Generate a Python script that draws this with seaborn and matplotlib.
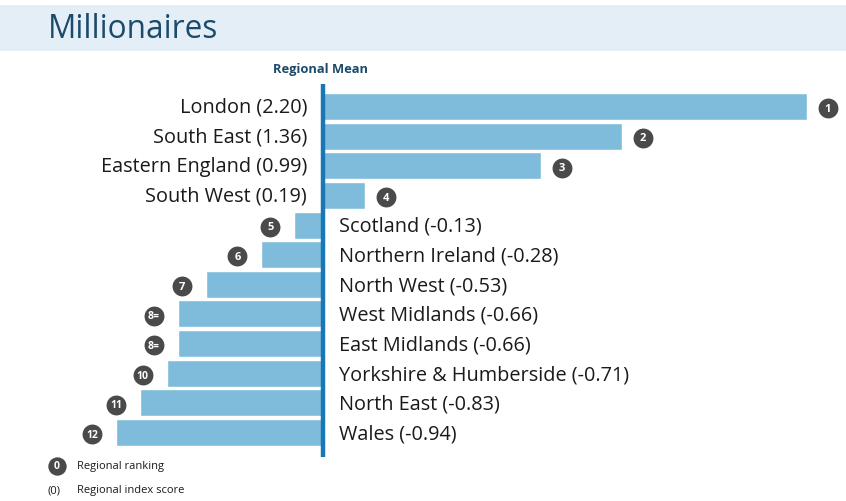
import matplotlib
matplotlib.use("Agg")
import matplotlib.pyplot as plt
import seaborn as sns
import pandas as pd
from matplotlib.patches import Rectangle

# Data
regions = ["London", "South East", "Eastern England", "South West", "Scotland",
           "Northern Ireland", "North West", "West Midlands", "East Midlands",
           "Yorkshire & Humberside", "North East", "Wales"]
scores = [2.20, 1.36, 0.99, 0.19, -0.13, -0.28, -0.53, -0.66, -0.66, -0.71, -0.83, -0.94]
ranks = ["1", "2", "3", "4", "5", "6", "7", "8=", "8=", "10", "11", "12"]

BAR_COLOR = "#7fbcdc"
AXIS_COLOR = "#1778b5"
NAVY = "#1b4a6b"
DARK = "#4a4a4a"
TEXT = "#1a1a1a"

sns.set_style("white")
plt.rcParams["font.family"] = ["Open Sans", "DejaVu Sans"]

W, H = 846, 502
fig = plt.figure(figsize=(W / 100, H / 100), dpi=100)
ax = fig.add_axes([0, 0, 1, 1])

df = pd.DataFrame({"region": regions, "score": scores})
sns.barplot(data=df, x="score", y="region", orient="h", color=BAR_COLOR,
            width=0.91, saturation=1, ax=ax)

# pixel mapping: x0 at 323px, 220 px per unit; rows start at 107.5px, 29.64 px apart
px_unit = 220.0
row = 29.64
ax.set_xlim(-323 / px_unit, (W - 323) / px_unit)
ax.set_ylim((H - 107.5) / row, -107.5 / row)
ax.axis("off")

# regional mean line
ax.plot([0, 0], [(85 - 107.5) / row, (458 - 107.5) / row], color=AXIS_COLOR,
        lw=3.2, solid_capstyle="butt", zorder=3)

pad = 16 / px_unit
for i, (name, v, r) in enumerate(zip(regions, scores, ranks)):
    label = f"{name} ({v:.2f})"
    if v >= 0:
        ax.text(-pad, i, label, ha="right", va="center", fontsize=14.3, color=TEXT)
        cx = v + 21 / px_unit
    else:
        ax.text(pad, i + 0.03, label, ha="left", va="center", fontsize=14.3, color=TEXT)
        cx = v - 24 / px_unit
    cy = i + 0.06
    ax.scatter([cx], [cy], s=205, color=DARK, zorder=4, linewidths=0)
    ax.text(cx, cy, r, ha="center", va="center", fontsize=7.5 if len(r) > 1 else 8,
            color="white", fontweight="bold", zorder=5)

# title band
fig.patches.append(Rectangle((0, 1 - 52 / H), 1, 46 / H, transform=fig.transFigure,
                             facecolor="#e3eef6", edgecolor="none", zorder=0))
fig.text(48 / W, 1 - 30 / H, "Millionaires", ha="left", va="center",
         fontsize=22.7, color=NAVY)
fig.text(320 / W, 1 - 70 / H, "Regional Mean", ha="center", va="center",
         fontsize=9.3, color=NAVY, fontweight="bold")

# key
ax_key = fig.add_axes([0, 0, 1, 1], facecolor="none")
ax_key.set_xlim(0, W)
ax_key.set_ylim(H, 0)
ax_key.axis("off")
ax_key.scatter([57], [467], s=175, color=DARK, linewidths=0)
ax_key.text(57, 467, "0", ha="center", va="center", fontsize=7.5, color="white",
            fontweight="bold")
ax_key.text(77, 467, "Regional ranking", ha="left", va="center", fontsize=8, color=TEXT)
ax_key.text(48, 491, "(0)", ha="left", va="center", fontsize=8, color=TEXT)
ax_key.text(77, 491, "Regional index score", ha="left", va="center", fontsize=8,
            color=TEXT)

fig.savefig("out.png", dpi=100, facecolor="white")
